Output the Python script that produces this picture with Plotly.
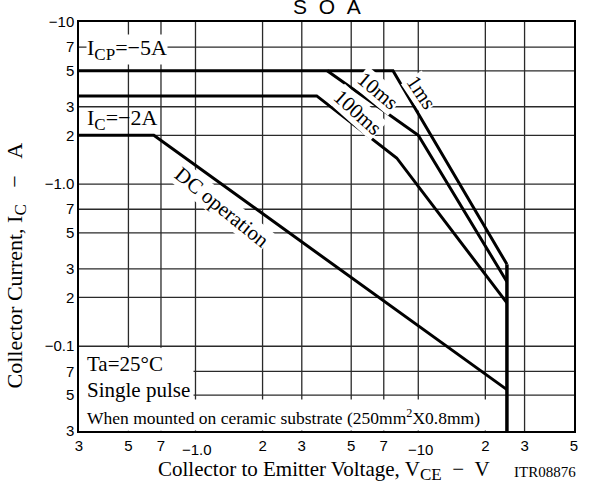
import math
import plotly.graph_objects as go

# ---------------- data ----------------
v_1ms = [0.3, 7.7, 25]
i_1ms = [5, 5, 0.32]
v_10ms = [3.9, 10, 25]
i_10ms = [5, 2, 0.25]
v_100ms = [0.3, 3.5, 8, 25]
i_100ms = [3.5, 3.5, 1.45, 0.185]
v_dc = [0.3, 0.65, 25]
i_dc = [2, 2, 0.054]
v_lim = [25, 25]
i_lim = [0.32, 0.03]

x_tickvals = [0.3, 0.5, 0.7, 1, 2, 3, 5, 7, 10, 20, 30, 50]
x_ticktext = ["3", "5", "7", " ", "2", "3", "5", "7", " ", "2", "3", "5"]
x_big_vals = [1, 10]
x_big_text = ["\u22121.0", "\u221210"]
y_tickvals = [10, 7, 5, 3, 2, 1, 0.7, 0.5, 0.3, 0.2, 0.1, 0.07, 0.05, 0.03]
y_ticktext = ["\u221210", "7", "5", "3", "2", "\u22121.0", "7", "5", "3", "2",
              "\u22120.1", "7", "5", "3"]

SERIF = "Liberation Serif"
SANS = "Liberation Sans"
GRID = "#2a2a2a"

fig = go.Figure()
for vx, iy, w in [(v_1ms, i_1ms, 3), (v_10ms, i_10ms, 3), (v_100ms, i_100ms, 3),
                  (v_dc, i_dc, 3), (v_lim, i_lim, 3.5)]:
    fig.add_trace(go.Scatter(x=vx, y=iy, mode="lines",
                             line=dict(color="black", width=w),
                             showlegend=False, hoverinfo="skip"))

shapes = []
# grid lines
for v in x_tickvals[1:-1]:
    shapes.append(dict(type="line", xref="x", yref="paper", x0=v, x1=v, y0=0, y1=1,
                       line=dict(color=GRID, width=1.3), layer="below"))
for i in y_tickvals[1:-1]:
    shapes.append(dict(type="line", xref="paper", yref="y", x0=0, x1=1, y0=i, y1=i,
                       line=dict(color=GRID, width=1.3), layer="below"))
# white masks behind the notes
shapes.append(dict(type="rect", xref="x", yref="y", x0=0.3, x1=0.98, y0=0.0302, y1=0.098,
                   fillcolor="white", line=dict(width=0), layer="below"))
shapes.append(dict(type="rect", xref="x", yref="y", x0=0.3, x1=22, y0=0.0302, y1=0.047,
                   fillcolor="white", line=dict(width=0), layer="below"))

L = math.log10
ann = []
def txt(v, i, s, size=21, angle=0, xanchor="center", bg="white"):
    ann.append(dict(x=L(v), y=L(i), xref="x", yref="y", text=s, showarrow=False,
                    textangle=angle, xanchor=xanchor, yanchor="middle",
                    font=dict(family=SERIF, size=size, color="black"),
                    bgcolor=bg, borderpad=0))

SUB = '<sub><span style="font-size:17px">%s</span></sub>'
txt(0.322, 6.8, "I" + SUB % "CP" + "=\u22125A", size=22, xanchor="left")
txt(0.322, 2.5, "I" + SUB % "C" + "=\u22122A", size=22, xanchor="left", bg=None)
txt(6.6, 3.75, "10ms", angle=40)
txt(10.3, 3.7, "1ms", angle=56)
txt(5.34, 2.8, "100ms", angle=42)
txt(1.31, 0.72, "DC operation", angle=39)
txt(0.322, 0.078, "Ta=25\u00b0C", xanchor="left", bg=None)
txt(0.322, 0.0535, "Single pulse", xanchor="left", bg=None)
txt(0.322, 0.0367, "When mounted on ceramic substrate (250mm<sup>2</sup>X0.8mm)",
    size=17.5, xanchor="left", bg=None)

for v, s in zip(x_big_vals, x_big_text):
    ann.append(dict(x=L(v), y=0, xref="x", yref="paper", text=s, showarrow=False,
                    xanchor="center", yanchor="top", yshift=-8, xshift=2,
                    font=dict(family=SANS, size=15, color="black")))

ann.append(dict(x=0.5, y=1.035, xref="paper", yref="paper", yshift=1,
                text="S\u00a0\u00a0O\u00a0\u00a0A", showarrow=False,
                xanchor="center", yanchor="middle",
                font=dict(family=SANS, size=21, color="black")))
ann.append(dict(x=0.495, y=-0.097, xref="paper", yref="paper",
                text="Collector to Emitter Voltage, V" + SUB % "CE" + "\u00a0\u00a0\u2212\u00a0\u00a0V",
                showarrow=False, xanchor="center", yanchor="middle",
                font=dict(family=SERIF, size=21, color="black")))
ann.append(dict(x=1.008, y=-0.1, xref="paper", yref="paper",
                text="ITR08876", showarrow=False, xanchor="right", yanchor="middle",
                font=dict(family=SERIF, size=15, color="black")))
ann.append(dict(x=-0.127, y=0.405, xref="paper", yref="paper",
                text="Collector Current, I" + SUB % "C"
                     + "\u00a0\u00a0\u00a0\u2212\u00a0\u00a0\u00a0A",
                textangle=-90, showarrow=False, xanchor="center", yanchor="middle",
                font=dict(family=SERIF, size=22, color="black")))

fig.update_layout(
    width=598, height=483,
    margin=dict(l=79, r=24, t=22, b=52),
    plot_bgcolor="white", paper_bgcolor="white",
    annotations=ann, shapes=shapes,
    showlegend=False,
)
fig.update_xaxes(type="log", range=[L(0.3), L(50)], tickvals=x_tickvals,
                 ticktext=x_ticktext, showgrid=False,
                 showline=True, linecolor="black", linewidth=1.5, mirror=True,
                 zeroline=False,
                 tickfont=dict(family=SANS, size=15, color="black"))
fig.update_yaxes(type="log", range=[L(0.03), L(10)], tickvals=y_tickvals,
                 ticktext=y_ticktext, showgrid=False,
                 showline=True, linecolor="black", linewidth=1.5, mirror=True,
                 zeroline=False,
                 tickfont=dict(family=SANS, size=15, color="black"))

fig.write_html("out.html", config={"displayModeBar": False},
               post_script="document.body.style.margin='0';document.body.style.overflow='hidden';")
